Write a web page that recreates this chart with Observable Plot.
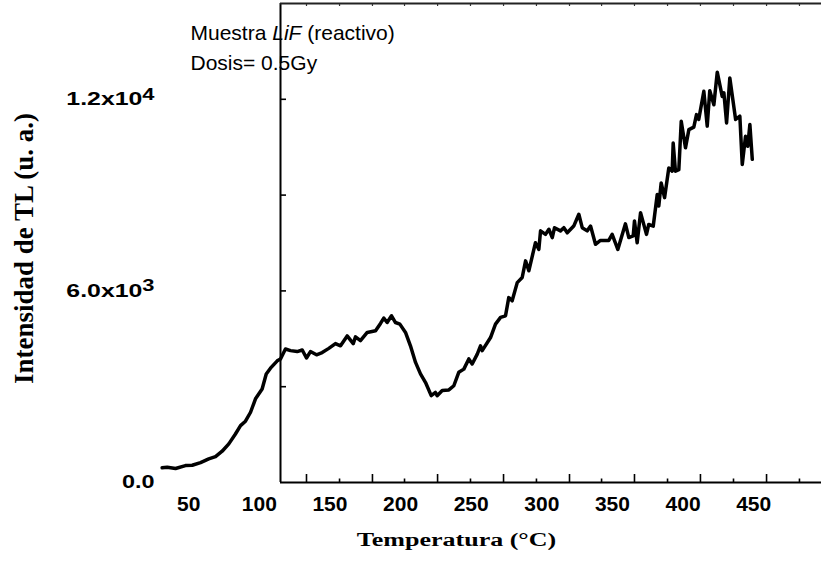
<!DOCTYPE html>
<html><head><meta charset="utf-8">
<script src="https://cdn.jsdelivr.net/npm/d3@7"></script>
<script src="https://cdn.jsdelivr.net/npm/@observablehq/plot@0.6"></script>
<style>body{margin:0;background:#fff;} svg{display:block;}</style>
</head><body><div id="chart"></div>
<script>
const temperature = [31.2,34.8,40.7,47.7,52.5,58.4,64.2,69.0,73.7,78.4,
83.1,86.7,90.2,93.8,97.3,102.0,104.9,107.9,112.7,115.0,
118.5,122.1,126.8,130.4,133.4,136.2,140.5,144.5,149.2,153.9,
157.5,162.2,166.5,168.1,171.6,176.4,182.3,185.8,188.1,190.5,
193.6,196.4,199.5,203.5,207.0,210.6,214.1,217.7,221.7,224.7,
225.9,229.5,234.2,237.7,241.2,244.8,248.3,250.7,254.3,256.6,
257.8,263.7,267.2,270.8,274.3,276.6,279.0,282.6,286.1,288.5,
290.8,295.5,297.9,299.1,302.6,305.0,307.4,309.0,313.2,315.6,
318.0,322.6,326.2,328.6,332.1,334.5,338.0,341.5,347.4,349.8,
353.8,359.2,361.6,364.7,365.6,367.5,369.9,374.1,375.7,378.9,
381.7,382.8,384.5,386.9,389.9,392.3,393.0,394.6,397.0,398.7,
401.7,404.1,407.6,409.5,411.1,414.7,417.1,418.9,421.8,424.2,
427.7,428.9,430.8,433.1,437.2,440.2,441.9,444.2,445.8,447.3,
449.0];
const intensity = [460,480,440,530,540,625,740,810,980,1210,
1520,1780,1920,2200,2620,2930,3400,3580,3810,3870,
4180,4130,4100,4150,3900,4100,4000,4070,4200,4350,
4280,4590,4350,4560,4440,4700,4750,4980,5150,5010,
5220,5010,4960,4700,4280,3760,3400,3130,2720,2820,
2720,2880,2900,3030,3450,3550,3870,3710,4020,4280,
4130,4540,4960,5170,5220,5790,5690,6260,6420,6940,
6630,7510,7300,7880,7770,7930,7670,7980,7880,7980,
7820,8030,8400,7980,7880,8030,7460,7580,7580,7770,
7300,8100,7670,7720,8190,7510,8450,7770,8080,8030,
9020,8660,9380,8920,9850,9750,10630,9750,9800,11310,
10480,11050,11130,11520,11370,12250,11160,12270,11830,12850,
12090,12200,11260,12670,11370,11470,9960,10840,10530,11210,
10120];

const xDomain = [115, 498];
const yDomain = [0, 15000];
const xTickLabels = [50, 100, 150, 200, 250, 300, 350, 400, 450];
const yTickValues = [0, 6000, 12000];
const yTickLabels = ["0.0", "6.0x10^3", "1.2x10^4"];
const frameMajorTicks = [133.4, 180.1, 226.2, 272.9, 319.6, 365.6, 412.3, 459.1];
const frameMinorTicks = [156.8, 202.8, 249.5, 296.2, 342.3, 389.0, 435.7, 482.4];
const frameYTicks = [3000, 6000, 9000, 12000];
const annotationLine1 = "Muestra LiF (reactivo)";
const annotationLine2 = "Dosis= 0.5Gy";
const xTitle = "Temperatura (°C)";
const yTitle = "Intensidad de TL (u. a.)";

const data = temperature.map((t, i) => ({t, v: intensity[i]}));
const sans = "Liberation Sans, Arial, sans-serif";
const serif = "Liberation Serif, Times New Roman, serif";
const blank = () => "";

const plot = Plot.plot({
  width: 821, height: 565,
  marginLeft: 280, marginRight: 0, marginTop: 3, marginBottom: 83,
  style: {fontFamily: sans, background: "white", overflow: "visible", color: "black"},
  x: {domain: xDomain, axis: null},
  y: {domain: yDomain, axis: null},
  marks: [
    Plot.ruleX([xDomain[0]], {stroke: "black", strokeWidth: 2}),
    Plot.ruleY([yDomain[0]], {stroke: "black", strokeWidth: 2}),
    Plot.ruleY([yDomain[1]], {stroke: "#222", strokeWidth: 2}),
    Plot.axisX(frameMajorTicks, {anchor: "bottom", label: null, tickSize: -8, tickFormat: blank, strokeWidth: 1.6, stroke: "black"}),
    Plot.axisX(frameMinorTicks, {anchor: "bottom", label: null, tickSize: -3.5, tickFormat: blank, strokeWidth: 1.6, stroke: "black"}),
    Plot.axisX(frameMajorTicks.concat(frameMinorTicks), {anchor: "top", label: null, tickSize: -2, tickFormat: blank, strokeWidth: 1.2, stroke: "#333"}),
    Plot.axisY(frameYTicks, {anchor: "left", label: null, tickSize: -6, tickFormat: blank, strokeWidth: 1.6, stroke: "black"}),
    Plot.axisX(xTickLabels, {anchor: "bottom", label: null, tickSize: 0, tickPadding: 14, fontSize: 21, fontWeight: "bold", fill: "black", tickFormat: d => String(d)}),
    Plot.axisY(yTickValues, {anchor: "left", label: null, tickSize: 0, tickPadding: 126, fontSize: 18, fontWeight: "bold", fill: "black",
      tickFormat: d => yTickLabels[yTickValues.indexOf(d)]}),
    Plot.line(data, {x: "t", y: "v", stroke: "black", strokeWidth: 3.5, strokeLinejoin: "round", strokeLinecap: "round"}),
    Plot.text([annotationLine1], {frameAnchor: "top-left", text: d => d, textAnchor: "start", lineAnchor: "middle", dx: -90, dy: 29.5, fontSize: 21, fill: "black"}),
    Plot.text([annotationLine2], {frameAnchor: "top-left", text: d => d, textAnchor: "start", lineAnchor: "middle", dx: -90, dy: 59.5, fontSize: 21, fill: "black"}),
    Plot.text([yTitle], {frameAnchor: "left", text: d => d, rotate: -90, textAnchor: "middle", lineAnchor: "middle", dx: -256, dy: 5.5, fontFamily: serif, fontWeight: "bold", fontSize: 27, fill: "black"}),
    Plot.text([xTitle], {frameAnchor: "bottom", text: d => d, textAnchor: "middle", lineAnchor: "middle", dx: -94.5, dy: 57, fontFamily: serif, fontWeight: "bold", fontSize: 19, fill: "black"})
  ]
});
document.getElementById("chart").append(plot);

const NS = "http://www.w3.org/2000/svg";
const texts = Array.from(plot.querySelectorAll("text"));
// horizontal widening of a text about its own anchor point
const stretch = (el, k) => {
  const tr = el.getAttribute("transform") || "";
  const x = parseFloat(el.getAttribute("x")) || 0;
  el.setAttribute("transform", `${tr} translate(${x},0) scale(${k},1) translate(${-x},0)`);
};
for (const el of texts) {
  const s = el.textContent;
  if (s.includes("^")) {
    const [base, sup] = s.split("^");
    el.textContent = "";
    const t1 = document.createElementNS(NS, "tspan"); t1.textContent = base; el.append(t1);
    const t2 = document.createElementNS(NS, "tspan"); t2.textContent = sup;
    t2.setAttribute("dy", "-0.34em"); t2.setAttribute("font-size", "0.88em"); el.append(t2);
    stretch(el, 1.38);
  } else if (s === "0.0") {
    stretch(el, 1.3);
  } else if (s === xTitle) {
    stretch(el, 1.37);
  } else if (s === annotationLine1) {
    el.textContent = "";
    const a = document.createElementNS(NS, "tspan"); a.textContent = "Muestra "; el.append(a);
    const b = document.createElementNS(NS, "tspan"); b.textContent = "LiF"; b.setAttribute("font-style", "italic"); el.append(b);
    const c = document.createElementNS(NS, "tspan"); c.textContent = " (reactivo)"; el.append(c);
  }
}
</script>
</body></html>
